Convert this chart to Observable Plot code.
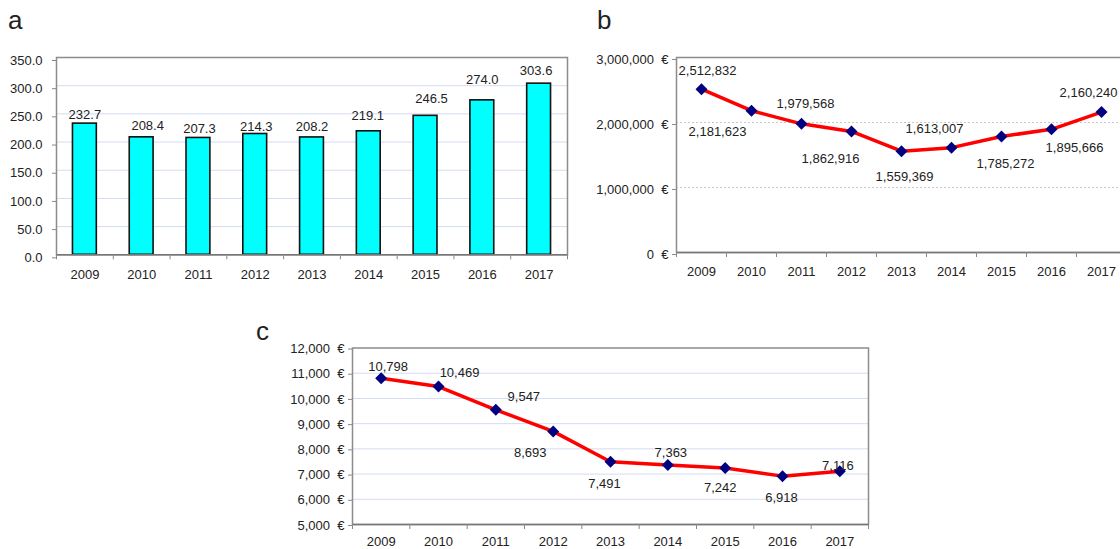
<!DOCTYPE html>
<html><head><meta charset="utf-8">
<script src="https://cdn.jsdelivr.net/npm/d3@7"></script>
<script src="https://cdn.jsdelivr.net/npm/@observablehq/plot@0.6"></script>
<style>
html,body{margin:0;padding:0;background:#fff;overflow:hidden;width:1120px;height:549px;}
#root{position:relative;width:1120px;height:549px;overflow:hidden;font-family:"Liberation Sans",Arial,sans-serif;}
.panel{position:absolute;}
.panel svg{max-width:none !important;}
.letter{position:absolute;font-size:26px;color:#222;line-height:1;font-family:"Liberation Sans",Arial,sans-serif;}
</style></head><body><div id="root">
<div class="letter" id="la" style="left:8px;top:7px;"></div>
<div class="letter" id="lb" style="left:597px;top:7px;"></div>
<div class="letter" id="lc" style="left:256px;top:318px;"></div>
<div class="panel" id="pa" style="left:0px;top:0px;width:570px;height:290px;"></div>
<div class="panel" id="pb" style="left:590px;top:0px;width:540px;height:290px;"></div>
<div class="panel" id="pc" style="left:250px;top:310px;width:630px;height:239px;"></div>
</div>
<script>
// ---- data ----
const years = [2009, 2010, 2011, 2012, 2013, 2014, 2015, 2016, 2017];
const seriesA = [232.7, 208.4, 207.3, 214.3, 208.2, 219.1, 246.5, 274.0, 303.6];
const seriesB = [2512832, 2181623, 1979568, 1862916, 1559369, 1613007, 1785272, 1895666, 2160240];
const seriesC = [10798, 10469, 9547, 8693, 7491, 7363, 7242, 6918, 7116];
const ticksA = [0, 50, 100, 150, 200, 250, 300, 350];
const ticksB = [0, 1000000, 2000000, 3000000];
const ticksC = [5000, 6000, 7000, 8000, 9000, 10000, 11000, 12000];
const panelLetters = ["a", "b", "c"];

// ---- label placement (style, not data) ----
const offA = [[0,-9],[6,-11],[1,-9],[1,-7],[0,-11],[-1,-15],[6,-17],[0,-21],[-3,-13]];
const offB = [[6,-18],[-34,21],[4,-20],[-21,27],[3,26],[-17,-19],[4,27],[23,19],[-13,-19]];
const offC = [[7,-11],[21,-14],[28,-13],[-23,21],[-6,22],[3,-12],[-5,20],[-1,22],[-2,-5]];

document.getElementById("la").textContent = panelLetters[0];
document.getElementById("lb").textContent = panelLetters[1];
document.getElementById("lc").textContent = panelLetters[2];

const FONT = '"Liberation Sans", Arial, sans-serif';
const style = {fontFamily: FONT, fontSize: "13px", color: "#222", background: "transparent", overflow: "visible", maxWidth: "none"};
const xDomain = [years[0] - 0.5, years[years.length - 1] + 0.5];
const bounds = years.map(y => y - 0.5).concat([years[years.length - 1] + 0.5]);
const fmt = d3.format(",");
const euro = d => fmt(d) + "\u00a0\u00a0€";

function xAxes(pad) {
  return [
    Plot.axisX({ticks: bounds, tickFormat: () => "", tickSize: 5, stroke: "#888", label: null}),
    Plot.axisX({ticks: years, tickFormat: d => String(d), tickSize: 0, tickPadding: pad, fontSize: 13, label: null})
  ];
}

// ---- panel a ----
const dataA = years.map((year, i) => ({year, value: seriesA[i]}));
const plotA = Plot.plot({
  width: 570, height: 290,
  marginLeft: 56, marginRight: 3, marginTop: 57, marginBottom: 35.7,
  style,
  x: {domain: xDomain, axis: null},
  y: {domain: [ticksA[0], ticksA[ticksA.length - 1]], axis: null},
  marks: [
    Plot.ruleY(ticksA.slice(1, -1), {stroke: "#d3dcf2", strokeWidth: 1}),
    Plot.rect(dataA, {x1: d => d.year - 0.21, x2: d => d.year + 0.21, y1: 0, y2: "value", fill: "#00ffff", stroke: "#111", strokeWidth: 1.6}),
    Plot.frame({stroke: "#8c8c8c", strokeWidth: 1.5}),
    Plot.ruleY([0], {stroke: "#777", strokeWidth: 1.5}),
    Plot.axisY({ticks: ticksA, tickFormat: d => d.toFixed(1), tickSize: 4, tickPadding: 10, stroke: "#888", fontSize: 13, dy: 3, label: null}),
    ...xAxes(15),
    ...dataA.map((d, i) => Plot.text([d], {x: "year", y: "value", text: d => d.value.toFixed(1), dx: offA[i][0], dy: offA[i][1], fontSize: 13, fill: "#222"}))
  ]
});
document.getElementById("pa").appendChild(plotA);

// ---- panel b ----
const dataB = years.map((year, i) => ({year, value: seriesB[i]}));
const plotB = Plot.plot({
  width: 540, height: 290,
  marginLeft: 86, marginRight: 4, marginTop: 57, marginBottom: 38,
  style,
  x: {domain: xDomain, axis: null},
  y: {domain: [ticksB[0], ticksB[ticksB.length - 1]], axis: null},
  marks: [
    Plot.ruleY(ticksB.slice(1, -1), {stroke: "#c8c8c8", strokeWidth: 1, strokeDasharray: "2,2"}),
    Plot.frame({stroke: "#8c8c8c", strokeWidth: 1.5}),
    Plot.ruleY([ticksB[0]], {stroke: "#777", strokeWidth: 1.5}),
    Plot.axisY({ticks: ticksB, tickFormat: euro, tickSize: 4, tickPadding: 4, stroke: "#888", fontSize: 13, dy: 2, label: null}),
    ...xAxes(14),
    Plot.line(dataB, {x: "year", y: "value", stroke: "#ff0000", strokeWidth: 3.5}),
    Plot.dot(dataB, {x: "year", y: "value", symbol: "diamond2", r: 5.4, fill: "#000080", stroke: "none"}),
    ...dataB.map((d, i) => Plot.text([d], {x: "year", y: "value", text: d => fmt(d.value), dx: offB[i][0], dy: offB[i][1], fontSize: 13, fill: "#222"}))
  ]
});
document.getElementById("pb").appendChild(plotB);

// ---- panel c ----
const dataC = years.map((year, i) => ({year, value: seriesC[i]}));
const plotC = Plot.plot({
  width: 630, height: 239,
  marginLeft: 102, marginRight: 12, marginTop: 37.5, marginBottom: 25,
  style,
  x: {domain: xDomain, axis: null},
  y: {domain: [ticksC[0], ticksC[ticksC.length - 1]], axis: null},
  marks: [
    Plot.ruleY(ticksC.slice(1, -1), {stroke: "#d3dcf2", strokeWidth: 1}),
    Plot.frame({stroke: "#8c8c8c", strokeWidth: 1.5}),
    Plot.ruleY([ticksC[0]], {stroke: "#777", strokeWidth: 1.5}),
    Plot.axisY({ticks: ticksC, tickFormat: euro, tickSize: 4, tickPadding: 4, stroke: "#888", fontSize: 13, dy: 1, label: null}),
    ...xAxes(12),
    Plot.line(dataC, {x: "year", y: "value", stroke: "#ff0000", strokeWidth: 3.5}),
    Plot.dot(dataC, {x: "year", y: "value", symbol: "diamond2", r: 5.4, fill: "#000080", stroke: "none"}),
    ...dataC.map((d, i) => Plot.text([d], {x: "year", y: "value", text: d => fmt(d.value), dx: offC[i][0], dy: offC[i][1], fontSize: 13, fill: "#222"}))
  ]
});
document.getElementById("pc").appendChild(plotC);
</script>
</body></html>
